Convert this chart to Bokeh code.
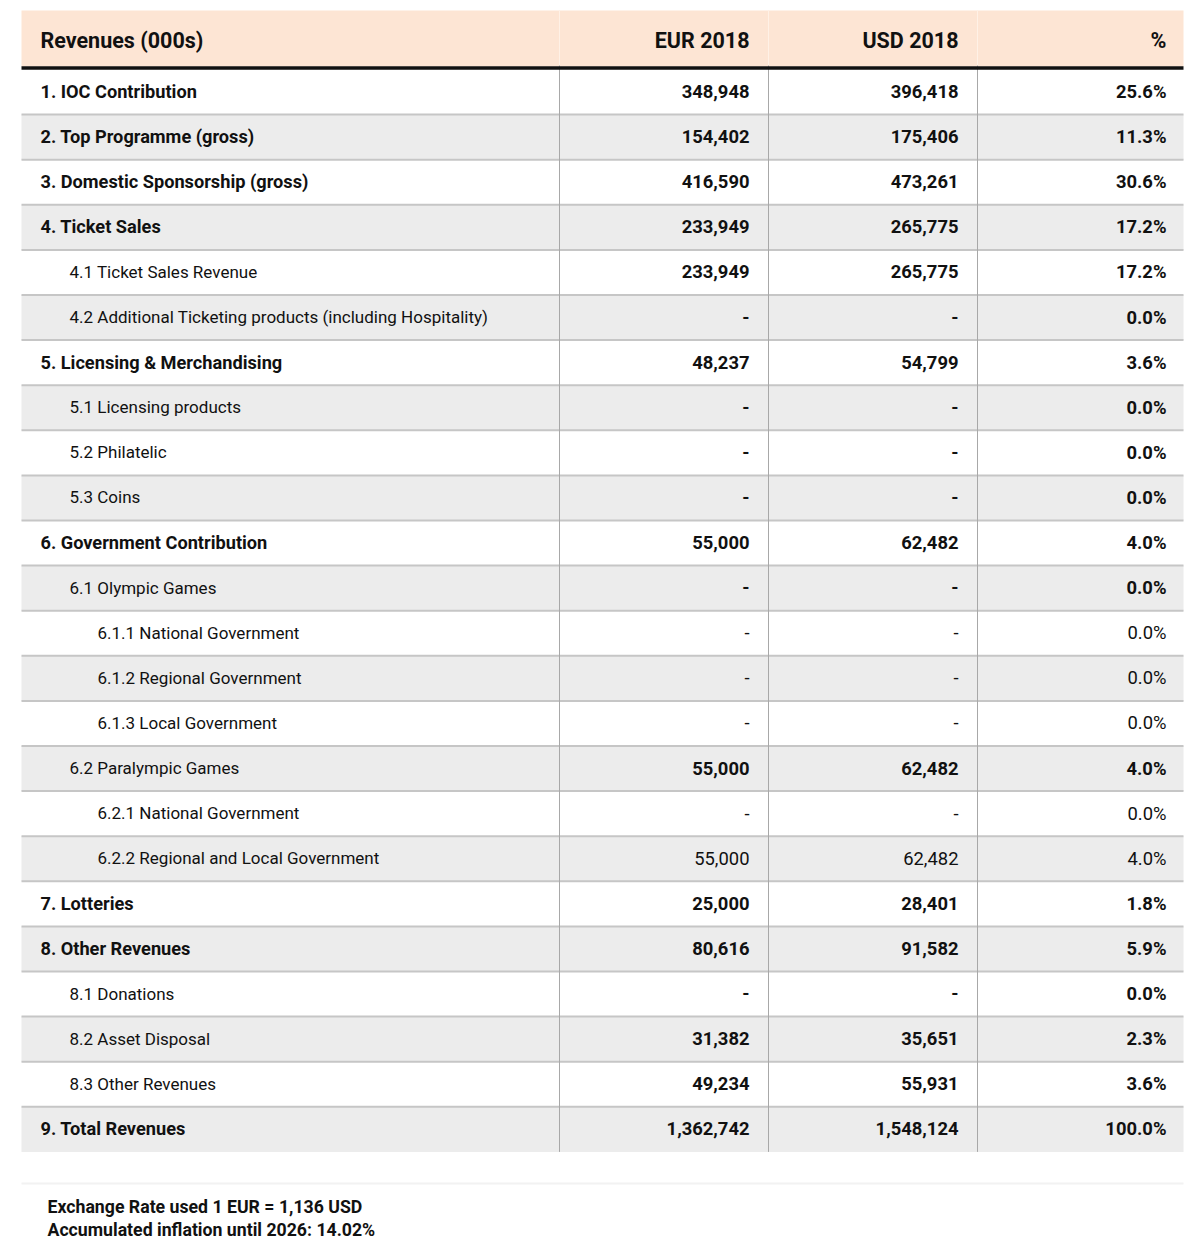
from bokeh.plotting import figure
from bokeh.models import ColumnDataSource, Range1d
from bokeh.core.properties import value
from bokeh.embed import file_html
from bokeh.resources import INLINE

# ---------------- data ----------------
labels = [
    "1. IOC Contribution",
    "2. Top Programme (gross)",
    "3. Domestic Sponsorship (gross)",
    "4. Ticket Sales",
    "4.1 Ticket Sales Revenue",
    "4.2 Additional Ticketing products (including Hospitality)",
    "5. Licensing & Merchandising",
    "5.1 Licensing products",
    "5.2 Philatelic",
    "5.3 Coins",
    "6. Government Contribution",
    "6.1 Olympic Games",
    "6.1.1 National Government",
    "6.1.2 Regional Government",
    "6.1.3 Local Government",
    "6.2 Paralympic Games",
    "6.2.1 National Government",
    "6.2.2 Regional and Local Government",
    "7. Lotteries",
    "8. Other Revenues",
    "8.1 Donations",
    "8.2 Asset Disposal",
    "8.3 Other Revenues",
    "9. Total Revenues",
]
levels = [0, 0, 0, 0, 1, 1, 0, 1, 1, 1, 0, 1, 2, 2, 2, 1, 2, 2, 0, 0, 1, 1, 1, 0]
eur = [348948, 154402, 416590, 233949, 233949, None, 48237, None, None, None,
       55000, None, None, None, None, 55000, None, 55000, 25000, 80616, None,
       31382, 49234, 1362742]
usd = [396418, 175406, 473261, 265775, 265775, None, 54799, None, None, None,
       62482, None, None, None, None, 62482, None, 62482, 28401, 91582, None,
       35651, 55931, 1548124]
pct = [25.6, 11.3, 30.6, 17.2, 17.2, 0.0, 3.6, 0.0, 0.0, 0.0, 4.0, 0.0, 0.0,
       0.0, 0.0, 4.0, 0.0, 4.0, 1.8, 5.9, 0.0, 2.3, 3.6, 100.0]
headers = ["Revenues (000s)", "EUR 2018", "USD 2018", "%"]
notes = ["Exchange Rate used 1 EUR = 1,136 USD",
         "Accumulated inflation until 2026: 14.02%"]

# ---------------- layout ----------------
FONT = "Roboto"
W, H = 1200, 1255
LEFT, RIGHT = 21, 1183
COL_X = [559, 768, 977]            # column separators
NUM_X = [749, 958, 1166]           # right edges of number text
INDENT = [40, 69, 97]
HEAD_TOP, HEAD_BOT = 10, 65
ROW_TOP, ROW_H = 69, 45.1

p = figure(width=W - 16, height=H - 16, output_backend="svg",
           toolbar_location=None,
           x_range=Range1d(0, W - 16), y_range=Range1d(H - 16, 0),
           min_border=0)
p.axis.visible = False
p.grid.visible = False
p.outline_line_color = None
p.background_fill_color = "white"
p.border_fill_color = "white"

n = len(labels)
tops = [ROW_TOP + i * ROW_H for i in range(n)]
bots = [t + ROW_H for t in tops]
mids = [(t + b) / 2 for t, b in zip(tops, bots)]

# header background
p.quad(left=[LEFT], right=[RIGHT], top=[HEAD_TOP], bottom=[HEAD_BOT + 1],
       fill_color="#fde5d4", line_color=None)
# header column separators (light)
p.segment(x0=COL_X, x1=COL_X, y0=[HEAD_TOP] * 3, y1=[HEAD_BOT] * 3,
          line_color="#fff1e6", line_width=1)

# row backgrounds
shade = [i for i in range(n) if i % 2 == 1]
p.quad(left=[LEFT] * len(shade), right=[RIGHT] * len(shade),
       top=[tops[i] for i in shade], bottom=[bots[i] for i in shade],
       fill_color="#ececec", line_color=None)

# horizontal separators between rows
p.segment(x0=[LEFT] * (n - 1), x1=[RIGHT] * (n - 1),
          y0=bots[:-1], y1=bots[:-1], line_color="#c6c6c6", line_width=2)
# vertical column separators in body
p.segment(x0=COL_X, x1=COL_X, y0=[HEAD_BOT] * 3, y1=[bots[-1]] * 3,
          line_color="#a8a8a8", line_width=1)
# thick header rule
p.segment(x0=[LEFT], x1=[RIGHT], y0=[67.5], y1=[67.5],
          line_color="#111111", line_width=3.5)

# header texts
hy = (HEAD_TOP + HEAD_BOT) / 2 + 2
p.text(x=[INDENT[0]], y=[hy], text=[headers[0]], text_font=value(FONT),
       text_font_size="21.5px", text_font_style="bold", text_color="#111111",
       text_baseline="middle", text_align="left")
p.text(x=NUM_X, y=[hy] * 3, text=headers[1:], text_font=value(FONT),
       text_font_size="21.5px", text_font_style="bold", text_color="#111111",
       text_baseline="middle", text_align="right")


def fmt_num(v):
    return "-" if v is None else f"{v:,}"


def fmt_pct(v):
    return f"{v:.1f}%"


for lvl in (0, 1, 2):
    idx = [i for i in range(n) if levels[i] == lvl]
    lab_style = "bold" if lvl == 0 else "normal"
    lab_size = "18.2px" if lvl == 0 else "17px"
    num_style = "normal" if lvl == 2 else "bold"
    src = ColumnDataSource(dict(
        x=[INDENT[lvl]] * len(idx),
        y=[mids[i] - 0.5 for i in idx],
        t=[labels[i] for i in idx],
    ))
    p.text(x="x", y="y", text="t", source=src, text_font=value(FONT),
           text_font_size=lab_size, text_font_style=lab_style,
           text_color="#111111", text_baseline="middle", text_align="left")
    for c, col in enumerate([eur, usd, pct]):
        f = fmt_pct if c == 2 else fmt_num
        s2 = ColumnDataSource(dict(
            x=[NUM_X[c]] * len(idx),
            y=[mids[i] - 0.5 for i in idx],
            t=[f(col[i]) for i in idx],
        ))
        p.text(x="x", y="y", text="t", source=s2, text_font=value(FONT),
               text_font_size="18.4px", text_font_style=num_style,
               text_color="#111111", text_baseline="middle",
               text_align="right")

# footer
p.segment(x0=[LEFT], x1=[RIGHT], y0=[1183], y1=[1183],
          line_color="#f2f2f2", line_width=2)
p.text(x=[47, 47], y=[1206, 1229], text=notes, text_font=value(FONT),
       text_font_size="17.7px", text_font_style="bold", text_color="#111111",
       text_baseline="middle", text_align="left")

open("out.html", "w").write(file_html(p, INLINE))
